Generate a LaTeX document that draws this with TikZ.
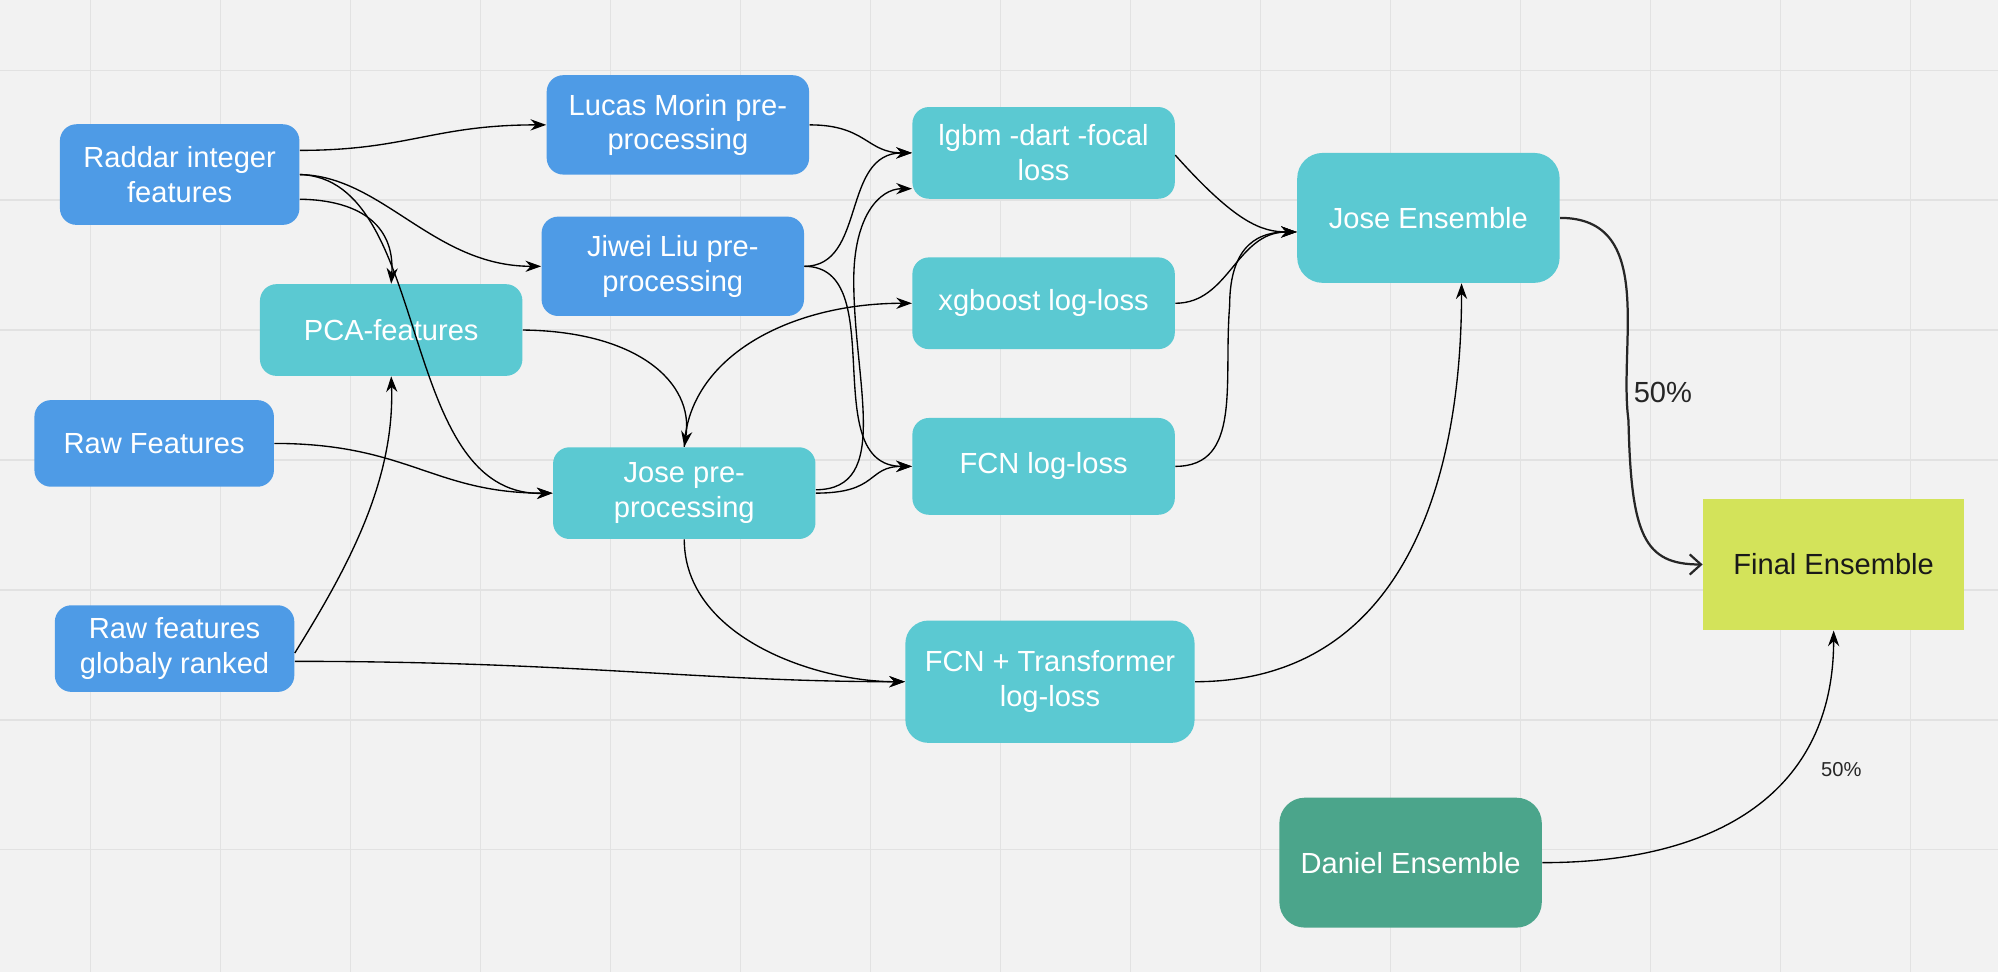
\documentclass[tikz,border=0pt]{standalone}
\usepackage{fontspec}
\setmainfont{Liberation Sans}
\usetikzlibrary{arrows.meta}
\definecolor{bgc}{HTML}{F2F2F2}
\definecolor{gridc}{HTML}{E2E2E2}
\definecolor{blu}{HTML}{4E9BE6}
\definecolor{teal}{HTML}{5BC9D2}
\definecolor{dgreen}{HTML}{4BA58B}
\definecolor{lime}{HTML}{D3E35A}
\begin{document}
\begin{tikzpicture}[x=0.02cm,y=-0.02cm,
  box/.style={rounded corners=0.26cm,text=white,align=center,inner sep=2pt,
    font=\fontsize{13}{15.5}\selectfont,minimum width=4.12cm,minimum height=1.44cm},
  bl/.style={box,fill=blu},
  tl/.style={box,fill=teal},
  ar/.style={-{Stealth[length=7pt,width=5pt]},black,line width=0.6pt},
  ar2/.style={-{Straight Barb[length=5pt,width=9pt]},black!85,line width=1pt}]
\useasboundingbox (0,0) rectangle (1568,763);
\fill[bgc] (0,0) rectangle (1568,763);
\foreach \x in {71,173,...,1499} \draw[gridc,line width=0.5pt] (\x,0) -- (\x,763);
\foreach \y in {55,157,...,667} \draw[gridc,line width=0.5pt] (0,\y) -- (1568,\y);

\node[bl,minimum width=3.76cm,minimum height=1.58cm] (raddar) at (141,137) {Raddar integer\\features};
\node[bl,minimum height=1.56cm] (lucas) at (532,98) {Lucas Morin pre-\\processing};
\node[bl,minimum height=1.56cm] (jiwei) at (528,209) {Jiwei Liu pre-\\processing};
\node[tl] (pca) at (307,259) {PCA-features};
\node[bl,minimum width=3.76cm,minimum height=1.36cm] (raw) at (121,348) {Raw Features};
\node[tl] (josepre) at (537,387) {Jose pre-\\processing};
\node[bl,minimum width=3.76cm,minimum height=1.36cm] (ranked) at (137,509) {Raw features\\globaly ranked};
\node[tl] (lgbm) at (819,120) {lgbm -dart -focal\\loss};
\node[tl] (xgb) at (819,238) {xgboost log-loss};
\node[tl,minimum height=1.52cm] (fcn) at (819,366) {FCN log-loss};
\node[tl,minimum width=4.54cm,minimum height=1.92cm,rounded corners=0.36cm] (fcnt) at (824,535) {FCN + Transformer\\log-loss};
\node[tl,minimum height=2.04cm,rounded corners=0.4cm] (jens) at (1121,171) {Jose Ensemble};
\node[box,fill=lime,text=black!90,rounded corners=0pt,minimum width=4.1cm,minimum height=2.06cm] (final) at (1439,443) {Final Ensemble};
\node[box,fill=dgreen,minimum height=2.04cm,rounded corners=0.4cm] (daniel) at (1107,677) {Daniel Ensemble};

% from Raddar
\draw[ar] ([yshift=10.8pt]raddar.east) .. controls (320,118) and (340,98) .. (lucas.west);
\draw[ar] (raddar.east) .. controls (300,138) and (340,209) .. (jiwei.west);
\draw[ar] (raddar.east) .. controls (340,140) and (310,390) .. (josepre.west);
\draw[ar] ([yshift=-11pt]raddar.east) .. controls (280,157) and (310,175) .. (pca.north);
% preprocessing to models
\draw[ar] (lucas.east) .. controls (680,98) and (680,120) .. (lgbm.west);
\draw[ar] (jiwei.east) .. controls (680,209) and (660,120) .. (lgbm.west);
\draw[ar] (jiwei.east) .. controls (700,209) and (640,366) .. (fcn.west);
\draw[ar] (pca.east) .. controls (500,260) and (545,300) .. (josepre.north);
\draw[ar] (raw.east) .. controls (320,348) and (340,387) .. (josepre.west);
\draw[ar] (josepre.north) .. controls (540,280) and (620,238) .. (xgb.west);
\draw[ar] ([yshift=1.5pt]josepre.east) .. controls (700,384) and (670,300) .. (670,220) .. controls (670,170) and (690,148) .. ([yshift=-16pt]lgbm.west);
\draw[ar] (josepre.east) .. controls (690,387) and (680,366) .. (fcn.west);
\draw[ar] (josepre.south) .. controls (537,500) and (640,535) .. (fcnt.west);
\draw[ar] ([yshift=-5.7pt]ranked.east) .. controls (450,519) and (550,535) .. (fcnt.west);
\draw[ar] ([yshift=-2pt]ranked.east) .. controls (270,450) and (310,380) .. (pca.south);
% models to Jose Ensemble
\draw[ar] ([yshift=-1pt]lgbm.east) .. controls (970,175) and (990,182) .. ([yshift=-6.3pt]jens.west);
\draw[ar] (xgb.east) .. controls (965,238) and (970,182) .. ([yshift=-6.3pt]jens.west);
\draw[ar] (fcn.east) .. controls (975,366) and (960,300) .. (965,240) .. controls (965,190) and (990,182) .. ([yshift=-6.3pt]jens.west);
\draw[ar] (fcnt.east) .. controls (1100,535) and (1147,380) .. ([xshift=0.52cm]jens.south);
% to final
\draw[ar2] (jens.east) .. controls (1300,171) and (1270,270) .. (1278,330) .. controls (1280,420) and (1290,443) .. (final.west);
\node[font=\fontsize{13}{15}\selectfont,text=black!85] (l1) at (1305,308) {50\%};
\draw[ar] (daniel.east) .. controls (1350,677) and (1439,620) .. (final.south);
\node[font=\fontsize{9}{11}\selectfont,text=black!85] (l2) at (1445,604) {50\%};
\end{tikzpicture}
\end{document}
